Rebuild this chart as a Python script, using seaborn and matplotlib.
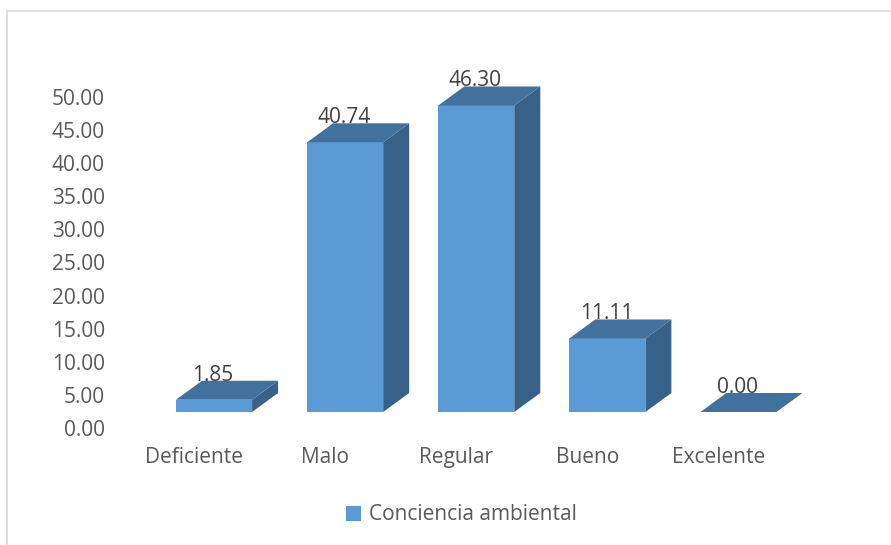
import matplotlib
matplotlib.use("Agg")
import matplotlib.pyplot as plt
import seaborn as sns
from matplotlib.transforms import offset_copy
from matplotlib.patches import Polygon, Rectangle, Patch

# ---- data ----
categories = ["Deficiente", "Malo", "Regular", "Bueno", "Excelente"]
values = [1.85, 40.74, 46.30, 11.11, 0.00]
series_name = "Conciencia ambiental"
y_ticks = [0, 5, 10, 15, 20, 25, 30, 35, 40, 45, 50]

# ---- style ----
FRONT = "#5B9BD5"
TOP = "#41719C"
SIDE = "#386189"
TICK_COLOR = "#595959"
LABEL_COLOR = "#404040"
FS = 15

sns.set_theme(style="white")
plt.rcParams['font.family'] = ['Open Sans', 'DejaVu Sans']

W, H, DPI = 891, 545, 100
fig = plt.figure(figsize=(W / DPI, H / DPI), dpi=DPI)

# axes geometry (pixels from top-left)
xl, xr, yb, yt = 128.5, 784.0, 428.0, 97.0
ax = fig.add_axes([xl / W, 1 - yb / H, (xr - xl) / W, (yb - yt) / H])

sns.barplot(x=categories, y=values, color=FRONT, saturation=1, width=0.58,
            linewidth=0, ax=ax)
ax.set_xlim(-0.5, len(categories) - 0.5)
ax.set_ylim(0, 50)

# perspective offsets
px_per_x = (xr - xl) / len(categories)
px_per_y = (yb - yt) / 50.0
ddx = 26 / px_per_x
ddy = 19 / px_per_y

tr = offset_copy(ax.transData, fig=fig, x=20, y=16, units='dots')
tr_lab = offset_copy(ax.transData, fig=fig, x=19, y=35, units='dots')

bars = list(ax.patches)
for p, v in zip(bars, values):
    p.set_transform(tr)
    p.set_clip_on(False)
    x0, w, h = p.get_x(), p.get_width(), p.get_height()
    top = Polygon([(x0, h), (x0 + w, h), (x0 + w + ddx, h + ddy), (x0 + ddx, h + ddy)],
                  closed=True, transform=tr, fc=TOP, lw=0, clip_on=False, zorder=3)
    side = Polygon([(x0 + w, 0), (x0 + w + ddx, ddy), (x0 + w + ddx, h + ddy), (x0 + w, h)],
                   closed=True, transform=tr, fc=SIDE, lw=0, clip_on=False, zorder=3)
    ax.add_patch(side)
    ax.add_patch(top)
    ax.text(x0 + w / 2, h, f"{v:.2f}", transform=tr_lab, ha='center', va='baseline',
            color=LABEL_COLOR, fontsize=FS, zorder=5)

ax.set_yticks(y_ticks)
ax.set_yticklabels([f"{t:.2f}" for t in y_ticks])
ax.tick_params(axis='y', length=0, pad=17, labelsize=FS, labelcolor=TICK_COLOR)
ax.tick_params(axis='x', length=0, pad=14, labelsize=FS, labelcolor=TICK_COLOR)
ax.set_xlabel("")
ax.set_ylabel("")
for s in ax.spines.values():
    s.set_visible(False)
ax.grid(False)
ax.patch.set_alpha(0)

fig.legend(handles=[Patch(facecolor=FRONT, edgecolor='none')], labels=[series_name],
           loc='center', bbox_to_anchor=(461 / W, 1 - 515 / H), frameon=False,
           handlelength=0.75, handleheight=0.75, handletextpad=0.35,
           fontsize=FS, labelcolor=TICK_COLOR)

fig.patches.append(Rectangle((7 / W, -0.1), 1.2, (1 - 11 / H) + 0.1,
                             transform=fig.transFigure, fill=False,
                             ec="#D9D9D9", lw=1.2))

fig.savefig("out.png", dpi=DPI)
